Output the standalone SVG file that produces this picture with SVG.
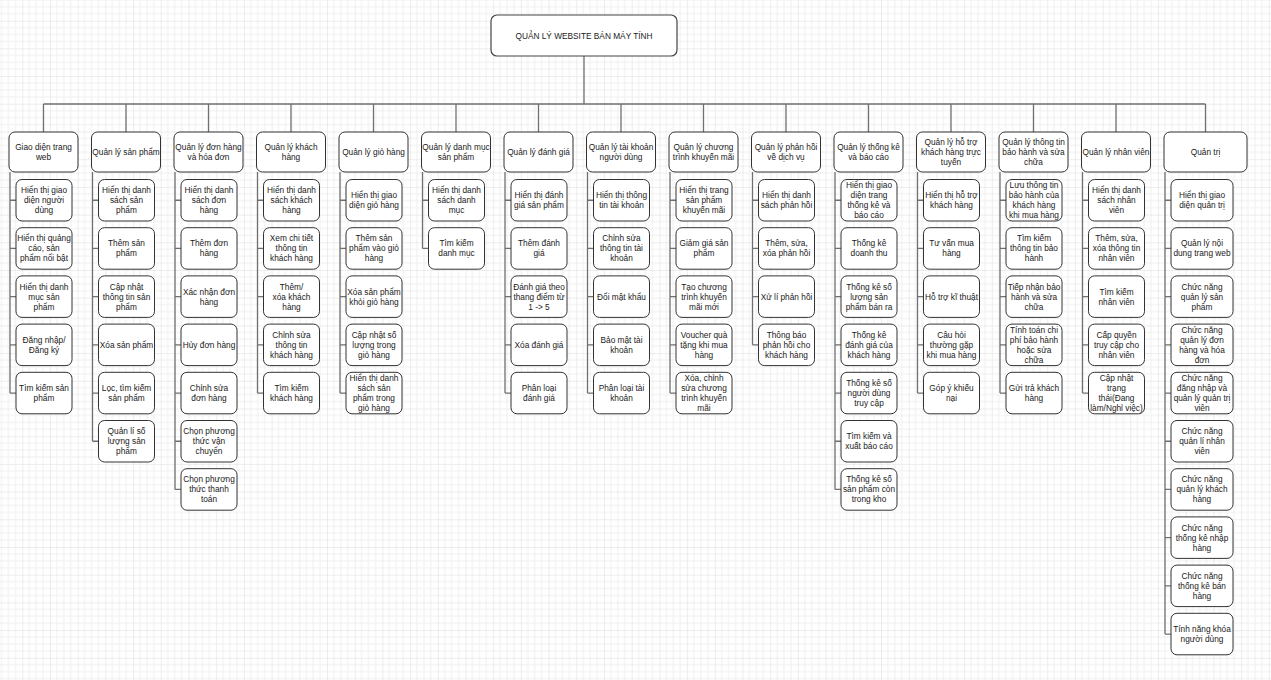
<svg xmlns="http://www.w3.org/2000/svg" width="1271" height="680" viewBox="0 0 1271 680">
<defs>
<pattern id="grid" patternUnits="userSpaceOnUse" x="-5.4" y="-7" width="27.7" height="27.7">
<path d="M6.925 0V27.7M13.85 0V27.7M20.775 0V27.7M0 6.925H27.7M0 13.85H27.7M0 20.775H27.7" stroke="#f0f0f0" stroke-width="1" fill="none"/>
<path d="M0 0V27.7M0 0H27.7" stroke="#dcdcdc" stroke-width="1" fill="none"/>
</pattern>
</defs>
<style>
.bx{fill:#fff;stroke:#333;stroke-width:1}
.tb{fill:#fff;stroke:#444;stroke-width:1.2}
.t{font-family:"Liberation Sans",Arial,sans-serif;font-size:8.3px;fill:#1a1a1a;text-anchor:middle;dominant-baseline:central}
.ln{fill:none;stroke:#707070;stroke-width:1.3}
</style>
<rect width="1271" height="680" fill="#fff"/>
<rect width="1271" height="680" fill="url(#grid)"/>

<g id="connectors" class="ln">
<path d="M584 56V104M43.5 104H1205.5"/>
<path d="M43.5 104V132M126 104V132M208.5 104V132M291 104V132M373.5 104V132M456 104V132M538.5 104V132M621 104V132M703.5 104V132M786 104V132M868.5 104V132M951 104V132M1033.5 104V132M1116 104V132M1205.5 104V132"/>
<path d="M10 172V393.05M10 200.25H16M10 248.45H16M10 296.65H16M10 344.85H16M10 393.05H16"/>
<path d="M92.5 172V441.25M92.5 200.25H98.5M92.5 248.45H98.5M92.5 296.65H98.5M92.5 344.85H98.5M92.5 393.05H98.5M92.5 441.25H98.5"/>
<path d="M175 172V489.45M175 200.25H181M175 248.45H181M175 296.65H181M175 344.85H181M175 393.05H181M175 441.25H181M175 489.45H181"/>
<path d="M257.5 172V393.05M257.5 200.25H263.5M257.5 248.45H263.5M257.5 296.65H263.5M257.5 344.85H263.5M257.5 393.05H263.5"/>
<path d="M340 172V393.05M340 200.25H346M340 248.45H346M340 296.65H346M340 344.85H346M340 393.05H346"/>
<path d="M422.5 172V248.45M422.5 200.25H428.5M422.5 248.45H428.5"/>
<path d="M505 172V393.05M505 200.25H511M505 248.45H511M505 296.65H511M505 344.85H511M505 393.05H511"/>
<path d="M587.5 172V393.05M587.5 200.25H593.5M587.5 248.45H593.5M587.5 296.65H593.5M587.5 344.85H593.5M587.5 393.05H593.5"/>
<path d="M670 172V393.05M670 200.25H676M670 248.45H676M670 296.65H676M670 344.85H676M670 393.05H676"/>
<path d="M752.5 172V344.85M752.5 200.25H758.5M752.5 248.45H758.5M752.5 296.65H758.5M752.5 344.85H758.5"/>
<path d="M835 172V489.45M835 200.25H841M835 248.45H841M835 296.65H841M835 344.85H841M835 393.05H841M835 441.25H841M835 489.45H841"/>
<path d="M917.5 172V393.05M917.5 200.25H923.5M917.5 248.45H923.5M917.5 296.65H923.5M917.5 344.85H923.5M917.5 393.05H923.5"/>
<path d="M1000 172V393.05M1000 200.25H1006M1000 248.45H1006M1000 296.65H1006M1000 344.85H1006M1000 393.05H1006"/>
<path d="M1082.5 172V393.05M1082.5 200.25H1088.5M1082.5 248.45H1088.5M1082.5 296.65H1088.5M1082.5 344.85H1088.5M1082.5 393.05H1088.5"/>
<path d="M1165 172V634.05M1165 200.25H1171M1165 248.45H1171M1165 296.65H1171M1165 344.85H1171M1165 393.05H1171M1165 441.25H1171M1165 489.45H1171M1165 537.65H1171M1165 585.85H1171M1165 634.05H1171"/>
</g>

<g id="title"><rect class="tb" x="491" y="15" width="186" height="41" rx="6"/><text class="t" x="584" y="35.5">QUẢN LÝ WEBSITE BÁN MÁY TÍNH</text></g>

<!-- Column 1 -->
<g id="n1" transform="translate(9,132)"><rect class="bx" width="69" height="40" rx="6"/><text class="t"><tspan x="34.5" y="15">Giao diện trang</tspan><tspan x="34.5" y="25">web</tspan></text></g>
<g id="n1-1" transform="translate(16,179.5)"><rect class="bx" width="56" height="41.5" rx="6"/><text class="t"><tspan x="28" y="10.75">Hiển thị giao</tspan><tspan x="28" y="20.75">diện người</tspan><tspan x="28" y="30.75">dùng</tspan></text></g>
<g id="n1-2" transform="translate(16,227.7)"><rect class="bx" width="56" height="41.5" rx="6"/><text class="t"><tspan x="28" y="10.75">Hiển thị quảng</tspan><tspan x="28" y="20.75">cáo, sản</tspan><tspan x="28" y="30.75">phẩm nổi bật</tspan></text></g>
<g id="n1-3" transform="translate(16,275.9)"><rect class="bx" width="56" height="41.5" rx="6"/><text class="t"><tspan x="28" y="10.75">Hiển thị danh</tspan><tspan x="28" y="20.75">mục sản</tspan><tspan x="28" y="30.75">phẩm</tspan></text></g>
<g id="n1-4" transform="translate(16,324.1)"><rect class="bx" width="56" height="41.5" rx="6"/><text class="t"><tspan x="28" y="15.75">Đăng nhập/</tspan><tspan x="28" y="25.75">Đăng ký</tspan></text></g>
<g id="n1-5" transform="translate(16,372.3)"><rect class="bx" width="56" height="41.5" rx="6"/><text class="t"><tspan x="28" y="15.75">Tìm kiếm sản</tspan><tspan x="28" y="25.75">phẩm</tspan></text></g>

<!-- Column 2 -->
<g id="n2" transform="translate(91.5,132)"><rect class="bx" width="69" height="40" rx="6"/><text class="t" x="34.5" y="20">Quản lý sản phẩm</text></g>
<g id="n2-1" transform="translate(98.5,179.5)"><rect class="bx" width="56" height="41.5" rx="6"/><text class="t"><tspan x="28" y="10.75">Hiển thị danh</tspan><tspan x="28" y="20.75">sách sản</tspan><tspan x="28" y="30.75">phẩm</tspan></text></g>
<g id="n2-2" transform="translate(98.5,227.7)"><rect class="bx" width="56" height="41.5" rx="6"/><text class="t"><tspan x="28" y="15.75">Thêm sản</tspan><tspan x="28" y="25.75">phẩm</tspan></text></g>
<g id="n2-3" transform="translate(98.5,275.9)"><rect class="bx" width="56" height="41.5" rx="6"/><text class="t"><tspan x="28" y="10.75">Cập nhật</tspan><tspan x="28" y="20.75">thông tin sản</tspan><tspan x="28" y="30.75">phẩm</tspan></text></g>
<g id="n2-4" transform="translate(98.5,324.1)"><rect class="bx" width="56" height="41.5" rx="6"/><text class="t" x="28" y="20.75">Xóa sản phẩm</text></g>
<g id="n2-5" transform="translate(98.5,372.3)"><rect class="bx" width="56" height="41.5" rx="6"/><text class="t"><tspan x="28" y="15.75">Lọc, tìm kiếm</tspan><tspan x="28" y="25.75">sản phẩm</tspan></text></g>
<g id="n2-6" transform="translate(98.5,420.5)"><rect class="bx" width="56" height="41.5" rx="6"/><text class="t"><tspan x="28" y="10.75">Quản lí số</tspan><tspan x="28" y="20.75">lượng sản</tspan><tspan x="28" y="30.75">phẩm</tspan></text></g>

<!-- Column 3 -->
<g id="n3" transform="translate(174,132)"><rect class="bx" width="69" height="40" rx="6"/><text class="t"><tspan x="34.5" y="15">Quản lý đơn hàng</tspan><tspan x="34.5" y="25">và hóa đơn</tspan></text></g>
<g id="n3-1" transform="translate(181,179.5)"><rect class="bx" width="56" height="41.5" rx="6"/><text class="t"><tspan x="28" y="10.75">Hiển thị danh</tspan><tspan x="28" y="20.75">sách đơn</tspan><tspan x="28" y="30.75">hàng</tspan></text></g>
<g id="n3-2" transform="translate(181,227.7)"><rect class="bx" width="56" height="41.5" rx="6"/><text class="t"><tspan x="28" y="15.75">Thêm đơn</tspan><tspan x="28" y="25.75">hàng</tspan></text></g>
<g id="n3-3" transform="translate(181,275.9)"><rect class="bx" width="56" height="41.5" rx="6"/><text class="t"><tspan x="28" y="15.75">Xác nhận đơn</tspan><tspan x="28" y="25.75">hàng</tspan></text></g>
<g id="n3-4" transform="translate(181,324.1)"><rect class="bx" width="56" height="41.5" rx="6"/><text class="t" x="28" y="20.75">Hủy đơn hàng</text></g>
<g id="n3-5" transform="translate(181,372.3)"><rect class="bx" width="56" height="41.5" rx="6"/><text class="t"><tspan x="28" y="15.75">Chỉnh sửa</tspan><tspan x="28" y="25.75">đơn hàng</tspan></text></g>
<g id="n3-6" transform="translate(181,420.5)"><rect class="bx" width="56" height="41.5" rx="6"/><text class="t"><tspan x="28" y="10.75">Chọn phương</tspan><tspan x="28" y="20.75">thức vận</tspan><tspan x="28" y="30.75">chuyển</tspan></text></g>
<g id="n3-7" transform="translate(181,468.7)"><rect class="bx" width="56" height="41.5" rx="6"/><text class="t"><tspan x="28" y="10.75">Chọn phương</tspan><tspan x="28" y="20.75">thức thanh</tspan><tspan x="28" y="30.75">toán</tspan></text></g>

<!-- Column 4 -->
<g id="n4" transform="translate(256.5,132)"><rect class="bx" width="69" height="40" rx="6"/><text class="t"><tspan x="34.5" y="15">Quản lý khách</tspan><tspan x="34.5" y="25">hàng</tspan></text></g>
<g id="n4-1" transform="translate(263.5,179.5)"><rect class="bx" width="56" height="41.5" rx="6"/><text class="t"><tspan x="28" y="10.75">Hiển thị danh</tspan><tspan x="28" y="20.75">sách khách</tspan><tspan x="28" y="30.75">hàng</tspan></text></g>
<g id="n4-2" transform="translate(263.5,227.7)"><rect class="bx" width="56" height="41.5" rx="6"/><text class="t"><tspan x="28" y="10.75">Xem chi tiết</tspan><tspan x="28" y="20.75">thông tin</tspan><tspan x="28" y="30.75">khách hàng</tspan></text></g>
<g id="n4-3" transform="translate(263.5,275.9)"><rect class="bx" width="56" height="41.5" rx="6"/><text class="t"><tspan x="28" y="10.75">Thêm/</tspan><tspan x="28" y="20.75">xóa khách</tspan><tspan x="28" y="30.75">hàng</tspan></text></g>
<g id="n4-4" transform="translate(263.5,324.1)"><rect class="bx" width="56" height="41.5" rx="6"/><text class="t"><tspan x="28" y="10.75">Chỉnh sửa</tspan><tspan x="28" y="20.75">thông tin</tspan><tspan x="28" y="30.75">khách hàng</tspan></text></g>
<g id="n4-5" transform="translate(263.5,372.3)"><rect class="bx" width="56" height="41.5" rx="6"/><text class="t"><tspan x="28" y="15.75">Tìm kiếm</tspan><tspan x="28" y="25.75">khách hàng</tspan></text></g>

<!-- Column 5 -->
<g id="n5" transform="translate(339,132)"><rect class="bx" width="69" height="40" rx="6"/><text class="t" x="34.5" y="20">Quản lý giỏ hàng</text></g>
<g id="n5-1" transform="translate(346,179.5)"><rect class="bx" width="56" height="41.5" rx="6"/><text class="t"><tspan x="28" y="15.75">Hiển thị giao</tspan><tspan x="28" y="25.75">diện giỏ hàng</tspan></text></g>
<g id="n5-2" transform="translate(346,227.7)"><rect class="bx" width="56" height="41.5" rx="6"/><text class="t"><tspan x="28" y="10.75">Thêm sản</tspan><tspan x="28" y="20.75">phẩm vào giỏ</tspan><tspan x="28" y="30.75">hàng</tspan></text></g>
<g id="n5-3" transform="translate(346,275.9)"><rect class="bx" width="56" height="41.5" rx="6"/><text class="t"><tspan x="28" y="15.75">Xóa sản phẩm</tspan><tspan x="28" y="25.75">khỏi giỏ hàng</tspan></text></g>
<g id="n5-4" transform="translate(346,324.1)"><rect class="bx" width="56" height="41.5" rx="6"/><text class="t"><tspan x="28" y="10.75">Cập nhật số</tspan><tspan x="28" y="20.75">lượng trong</tspan><tspan x="28" y="30.75">giỏ hàng</tspan></text></g>
<g id="n5-5" transform="translate(346,372.3)"><rect class="bx" width="56" height="41.5" rx="6"/><text class="t"><tspan x="28" y="5.75">Hiển thị danh</tspan><tspan x="28" y="15.75">sách sản</tspan><tspan x="28" y="25.75">phẩm trong</tspan><tspan x="28" y="35.75">giỏ hàng</tspan></text></g>

<!-- Column 6 -->
<g id="n6" transform="translate(421.5,132)"><rect class="bx" width="69" height="40" rx="6"/><text class="t"><tspan x="34.5" y="15">Quản lý danh mục</tspan><tspan x="34.5" y="25">sản phẩm</tspan></text></g>
<g id="n6-1" transform="translate(428.5,179.5)"><rect class="bx" width="56" height="41.5" rx="6"/><text class="t"><tspan x="28" y="10.75">Hiển thị danh</tspan><tspan x="28" y="20.75">sách danh</tspan><tspan x="28" y="30.75">mục</tspan></text></g>
<g id="n6-2" transform="translate(428.5,227.7)"><rect class="bx" width="56" height="41.5" rx="6"/><text class="t"><tspan x="28" y="15.75">Tìm kiếm</tspan><tspan x="28" y="25.75">danh mục</tspan></text></g>

<!-- Column 7 -->
<g id="n7" transform="translate(504,132)"><rect class="bx" width="69" height="40" rx="6"/><text class="t" x="34.5" y="20">Quản lý đánh giá</text></g>
<g id="n7-1" transform="translate(511,179.5)"><rect class="bx" width="56" height="41.5" rx="6"/><text class="t"><tspan x="28" y="15.75">Hiển thị đánh</tspan><tspan x="28" y="25.75">giá sản phẩm</tspan></text></g>
<g id="n7-2" transform="translate(511,227.7)"><rect class="bx" width="56" height="41.5" rx="6"/><text class="t"><tspan x="28" y="15.75">Thêm đánh</tspan><tspan x="28" y="25.75">giá</tspan></text></g>
<g id="n7-3" transform="translate(511,275.9)"><rect class="bx" width="56" height="41.5" rx="6"/><text class="t"><tspan x="28" y="10.75">Đánh giá theo</tspan><tspan x="28" y="20.75">thang điểm từ</tspan><tspan x="28" y="30.75">1 -&gt; 5</tspan></text></g>
<g id="n7-4" transform="translate(511,324.1)"><rect class="bx" width="56" height="41.5" rx="6"/><text class="t" x="28" y="20.75">Xóa đánh giá</text></g>
<g id="n7-5" transform="translate(511,372.3)"><rect class="bx" width="56" height="41.5" rx="6"/><text class="t"><tspan x="28" y="15.75">Phân loại</tspan><tspan x="28" y="25.75">đánh giá</tspan></text></g>

<!-- Column 8 -->
<g id="n8" transform="translate(586.5,132)"><rect class="bx" width="69" height="40" rx="6"/><text class="t"><tspan x="34.5" y="15">Quản lý tài khoản</tspan><tspan x="34.5" y="25">người dùng</tspan></text></g>
<g id="n8-1" transform="translate(593.5,179.5)"><rect class="bx" width="56" height="41.5" rx="6"/><text class="t"><tspan x="28" y="15.75">Hiển thị thông</tspan><tspan x="28" y="25.75">tin tài khoản</tspan></text></g>
<g id="n8-2" transform="translate(593.5,227.7)"><rect class="bx" width="56" height="41.5" rx="6"/><text class="t"><tspan x="28" y="10.75">Chỉnh sửa</tspan><tspan x="28" y="20.75">thông tin tài</tspan><tspan x="28" y="30.75">khoản</tspan></text></g>
<g id="n8-3" transform="translate(593.5,275.9)"><rect class="bx" width="56" height="41.5" rx="6"/><text class="t" x="28" y="20.75">Đổi mật khẩu</text></g>
<g id="n8-4" transform="translate(593.5,324.1)"><rect class="bx" width="56" height="41.5" rx="6"/><text class="t"><tspan x="28" y="15.75">Bảo mật tài</tspan><tspan x="28" y="25.75">khoản</tspan></text></g>
<g id="n8-5" transform="translate(593.5,372.3)"><rect class="bx" width="56" height="41.5" rx="6"/><text class="t"><tspan x="28" y="15.75">Phân loại tài</tspan><tspan x="28" y="25.75">khoản</tspan></text></g>

<!-- Column 9 -->
<g id="n9" transform="translate(669,132)"><rect class="bx" width="69" height="40" rx="6"/><text class="t"><tspan x="34.5" y="15">Quản lý chương</tspan><tspan x="34.5" y="25">trình khuyến mãi</tspan></text></g>
<g id="n9-1" transform="translate(676,179.5)"><rect class="bx" width="56" height="41.5" rx="6"/><text class="t"><tspan x="28" y="10.75">Hiển thị trang</tspan><tspan x="28" y="20.75">sản phẩm</tspan><tspan x="28" y="30.75">khuyến mãi</tspan></text></g>
<g id="n9-2" transform="translate(676,227.7)"><rect class="bx" width="56" height="41.5" rx="6"/><text class="t"><tspan x="28" y="15.75">Giảm giá sản</tspan><tspan x="28" y="25.75">phẩm</tspan></text></g>
<g id="n9-3" transform="translate(676,275.9)"><rect class="bx" width="56" height="41.5" rx="6"/><text class="t"><tspan x="28" y="10.75">Tạo chương</tspan><tspan x="28" y="20.75">trình khuyến</tspan><tspan x="28" y="30.75">mãi mới</tspan></text></g>
<g id="n9-4" transform="translate(676,324.1)"><rect class="bx" width="56" height="41.5" rx="6"/><text class="t"><tspan x="28" y="10.75">Voucher quà</tspan><tspan x="28" y="20.75">tặng khi mua</tspan><tspan x="28" y="30.75">hàng</tspan></text></g>
<g id="n9-5" transform="translate(676,372.3)"><rect class="bx" width="56" height="41.5" rx="6"/><text class="t"><tspan x="28" y="5.75">Xóa, chỉnh</tspan><tspan x="28" y="15.75">sửa chương</tspan><tspan x="28" y="25.75">trình khuyến</tspan><tspan x="28" y="35.75">mãi</tspan></text></g>

<!-- Column 10 -->
<g id="n10" transform="translate(751.5,132)"><rect class="bx" width="69" height="40" rx="6"/><text class="t"><tspan x="34.5" y="15">Quản lý phản hồi</tspan><tspan x="34.5" y="25">về dịch vụ</tspan></text></g>
<g id="n10-1" transform="translate(758.5,179.5)"><rect class="bx" width="56" height="41.5" rx="6"/><text class="t"><tspan x="28" y="15.75">Hiển thị danh</tspan><tspan x="28" y="25.75">sách phản hồi</tspan></text></g>
<g id="n10-2" transform="translate(758.5,227.7)"><rect class="bx" width="56" height="41.5" rx="6"/><text class="t"><tspan x="28" y="15.75">Thêm, sửa,</tspan><tspan x="28" y="25.75">xóa phản hồi</tspan></text></g>
<g id="n10-3" transform="translate(758.5,275.9)"><rect class="bx" width="56" height="41.5" rx="6"/><text class="t" x="28" y="20.75">Xử lí phản hồi</text></g>
<g id="n10-4" transform="translate(758.5,324.1)"><rect class="bx" width="56" height="41.5" rx="6"/><text class="t"><tspan x="28" y="10.75">Thông báo</tspan><tspan x="28" y="20.75">phản hồi cho</tspan><tspan x="28" y="30.75">khách hàng</tspan></text></g>

<!-- Column 11 -->
<g id="n11" transform="translate(834,132)"><rect class="bx" width="69" height="40" rx="6"/><text class="t"><tspan x="34.5" y="15">Quản lý thống kê</tspan><tspan x="34.5" y="25">và báo cáo</tspan></text></g>
<g id="n11-1" transform="translate(841,179.5)"><rect class="bx" width="56" height="41.5" rx="6"/><text class="t"><tspan x="28" y="5.75">Hiển thị giao</tspan><tspan x="28" y="15.75">diện trang</tspan><tspan x="28" y="25.75">thống kê và</tspan><tspan x="28" y="35.75">báo cáo</tspan></text></g>
<g id="n11-2" transform="translate(841,227.7)"><rect class="bx" width="56" height="41.5" rx="6"/><text class="t"><tspan x="28" y="15.75">Thống kê</tspan><tspan x="28" y="25.75">doanh thu</tspan></text></g>
<g id="n11-3" transform="translate(841,275.9)"><rect class="bx" width="56" height="41.5" rx="6"/><text class="t"><tspan x="28" y="10.75">Thống kê số</tspan><tspan x="28" y="20.75">lượng sản</tspan><tspan x="28" y="30.75">phẩm bán ra</tspan></text></g>
<g id="n11-4" transform="translate(841,324.1)"><rect class="bx" width="56" height="41.5" rx="6"/><text class="t"><tspan x="28" y="10.75">Thống kê</tspan><tspan x="28" y="20.75">đánh giá của</tspan><tspan x="28" y="30.75">khách hàng</tspan></text></g>
<g id="n11-5" transform="translate(841,372.3)"><rect class="bx" width="56" height="41.5" rx="6"/><text class="t"><tspan x="28" y="10.75">Thống kê số</tspan><tspan x="28" y="20.75">người dùng</tspan><tspan x="28" y="30.75">truy cập</tspan></text></g>
<g id="n11-6" transform="translate(841,420.5)"><rect class="bx" width="56" height="41.5" rx="6"/><text class="t"><tspan x="28" y="15.75">Tìm kiếm và</tspan><tspan x="28" y="25.75">xuất báo cáo</tspan></text></g>
<g id="n11-7" transform="translate(841,468.7)"><rect class="bx" width="56" height="41.5" rx="6"/><text class="t"><tspan x="28" y="10.75">Thống kê số</tspan><tspan x="28" y="20.75">sản phẩm còn</tspan><tspan x="28" y="30.75">trong kho</tspan></text></g>

<!-- Column 12 -->
<g id="n12" transform="translate(916.5,132)"><rect class="bx" width="69" height="40" rx="6"/><text class="t"><tspan x="34.5" y="10">Quản lý hỗ trợ</tspan><tspan x="34.5" y="20">khách hàng trực</tspan><tspan x="34.5" y="30">tuyến</tspan></text></g>
<g id="n12-1" transform="translate(923.5,179.5)"><rect class="bx" width="56" height="41.5" rx="6"/><text class="t"><tspan x="28" y="15.75">Hiển thị hỗ trợ</tspan><tspan x="28" y="25.75">khách hàng</tspan></text></g>
<g id="n12-2" transform="translate(923.5,227.7)"><rect class="bx" width="56" height="41.5" rx="6"/><text class="t"><tspan x="28" y="15.75">Tư vấn mua</tspan><tspan x="28" y="25.75">hàng</tspan></text></g>
<g id="n12-3" transform="translate(923.5,275.9)"><rect class="bx" width="56" height="41.5" rx="6"/><text class="t" x="28" y="20.75">Hỗ trợ kĩ thuật</text></g>
<g id="n12-4" transform="translate(923.5,324.1)"><rect class="bx" width="56" height="41.5" rx="6"/><text class="t"><tspan x="28" y="10.75">Câu hỏi</tspan><tspan x="28" y="20.75">thường gặp</tspan><tspan x="28" y="30.75">khi mua hàng</tspan></text></g>
<g id="n12-5" transform="translate(923.5,372.3)"><rect class="bx" width="56" height="41.5" rx="6"/><text class="t"><tspan x="28" y="15.75">Góp ý khiếu</tspan><tspan x="28" y="25.75">nại</tspan></text></g>

<!-- Column 13 -->
<g id="n13" transform="translate(999,132)"><rect class="bx" width="69" height="40" rx="6"/><text class="t"><tspan x="34.5" y="10">Quản lý thông tin</tspan><tspan x="34.5" y="20">bảo hành và sửa</tspan><tspan x="34.5" y="30">chữa</tspan></text></g>
<g id="n13-1" transform="translate(1006,179.5)"><rect class="bx" width="56" height="41.5" rx="6"/><text class="t"><tspan x="28" y="5.75">Lưu thông tin</tspan><tspan x="28" y="15.75">bảo hành của</tspan><tspan x="28" y="25.75">khách hàng</tspan><tspan x="28" y="35.75">khi mua hàng</tspan></text></g>
<g id="n13-2" transform="translate(1006,227.7)"><rect class="bx" width="56" height="41.5" rx="6"/><text class="t"><tspan x="28" y="10.75">Tìm kiếm</tspan><tspan x="28" y="20.75">thông tin bảo</tspan><tspan x="28" y="30.75">hành</tspan></text></g>
<g id="n13-3" transform="translate(1006,275.9)"><rect class="bx" width="56" height="41.5" rx="6"/><text class="t"><tspan x="28" y="10.75">Tiếp nhận bảo</tspan><tspan x="28" y="20.75">hành và sửa</tspan><tspan x="28" y="30.75">chữa</tspan></text></g>
<g id="n13-4" transform="translate(1006,324.1)"><rect class="bx" width="56" height="41.5" rx="6"/><text class="t"><tspan x="28" y="5.75">Tính toán chi</tspan><tspan x="28" y="15.75">phí bảo hành</tspan><tspan x="28" y="25.75">hoặc sửa</tspan><tspan x="28" y="35.75">chữa</tspan></text></g>
<g id="n13-5" transform="translate(1006,372.3)"><rect class="bx" width="56" height="41.5" rx="6"/><text class="t"><tspan x="28" y="15.75">Gửi trả khách</tspan><tspan x="28" y="25.75">hàng</tspan></text></g>

<!-- Column 14 -->
<g id="n14" transform="translate(1081.5,132)"><rect class="bx" width="69" height="40" rx="6"/><text class="t" x="34.5" y="20">Quản lý nhân viên</text></g>
<g id="n14-1" transform="translate(1088.5,179.5)"><rect class="bx" width="56" height="41.5" rx="6"/><text class="t"><tspan x="28" y="10.75">Hiển thị danh</tspan><tspan x="28" y="20.75">sách nhân</tspan><tspan x="28" y="30.75">viên</tspan></text></g>
<g id="n14-2" transform="translate(1088.5,227.7)"><rect class="bx" width="56" height="41.5" rx="6"/><text class="t"><tspan x="28" y="10.75">Thêm, sửa,</tspan><tspan x="28" y="20.75">xóa thông tin</tspan><tspan x="28" y="30.75">nhân viên</tspan></text></g>
<g id="n14-3" transform="translate(1088.5,275.9)"><rect class="bx" width="56" height="41.5" rx="6"/><text class="t"><tspan x="28" y="15.75">Tìm kiếm</tspan><tspan x="28" y="25.75">nhân viên</tspan></text></g>
<g id="n14-4" transform="translate(1088.5,324.1)"><rect class="bx" width="56" height="41.5" rx="6"/><text class="t"><tspan x="28" y="10.75">Cấp quyền</tspan><tspan x="28" y="20.75">truy cập cho</tspan><tspan x="28" y="30.75">nhân viên</tspan></text></g>
<g id="n14-5" transform="translate(1088.5,372.3)"><rect class="bx" width="56" height="41.5" rx="6"/><text class="t"><tspan x="28" y="5.75">Cập nhật</tspan><tspan x="28" y="15.75">trạng</tspan><tspan x="28" y="25.75">thái(Đang</tspan><tspan x="28" y="35.75">làm/Nghỉ việc)</tspan></text></g>

<!-- Column 15 -->
<g id="n15" transform="translate(1164,132)"><rect class="bx" width="83" height="40" rx="6"/><text class="t" x="41.5" y="20">Quản trị</text></g>
<g id="n15-1" transform="translate(1171,179.5)"><rect class="bx" width="62" height="41.5" rx="6"/><text class="t"><tspan x="31" y="15.75">Hiển thị giao</tspan><tspan x="31" y="25.75">diện quản trị</tspan></text></g>
<g id="n15-2" transform="translate(1171,227.7)"><rect class="bx" width="62" height="41.5" rx="6"/><text class="t"><tspan x="31" y="15.75">Quản lý nội</tspan><tspan x="31" y="25.75">dung trang web</tspan></text></g>
<g id="n15-3" transform="translate(1171,275.9)"><rect class="bx" width="62" height="41.5" rx="6"/><text class="t"><tspan x="31" y="10.75">Chức năng</tspan><tspan x="31" y="20.75">quản lý sản</tspan><tspan x="31" y="30.75">phẩm</tspan></text></g>
<g id="n15-4" transform="translate(1171,324.1)"><rect class="bx" width="62" height="41.5" rx="6"/><text class="t"><tspan x="31" y="5.75">Chức năng</tspan><tspan x="31" y="15.75">quản lý đơn</tspan><tspan x="31" y="25.75">hàng và hóa</tspan><tspan x="31" y="35.75">đơn</tspan></text></g>
<g id="n15-5" transform="translate(1171,372.3)"><rect class="bx" width="62" height="41.5" rx="6"/><text class="t"><tspan x="31" y="5.75">Chức năng</tspan><tspan x="31" y="15.75">đăng nhập và</tspan><tspan x="31" y="25.75">quản lý quản trị</tspan><tspan x="31" y="35.75">viên</tspan></text></g>
<g id="n15-6" transform="translate(1171,420.5)"><rect class="bx" width="62" height="41.5" rx="6"/><text class="t"><tspan x="31" y="10.75">Chức năng</tspan><tspan x="31" y="20.75">quản lí nhân</tspan><tspan x="31" y="30.75">viên</tspan></text></g>
<g id="n15-7" transform="translate(1171,468.7)"><rect class="bx" width="62" height="41.5" rx="6"/><text class="t"><tspan x="31" y="10.75">Chức năng</tspan><tspan x="31" y="20.75">quản lý khách</tspan><tspan x="31" y="30.75">hàng</tspan></text></g>
<g id="n15-8" transform="translate(1171,516.9)"><rect class="bx" width="62" height="41.5" rx="6"/><text class="t"><tspan x="31" y="10.75">Chức năng</tspan><tspan x="31" y="20.75">thống kê nhập</tspan><tspan x="31" y="30.75">hàng</tspan></text></g>
<g id="n15-9" transform="translate(1171,565.1)"><rect class="bx" width="62" height="41.5" rx="6"/><text class="t"><tspan x="31" y="10.75">Chức năng</tspan><tspan x="31" y="20.75">thống kê bán</tspan><tspan x="31" y="30.75">hàng</tspan></text></g>
<g id="n15-10" transform="translate(1171,613.3)"><rect class="bx" width="62" height="41.5" rx="6"/><text class="t"><tspan x="31" y="15.75">Tính năng khóa</tspan><tspan x="31" y="25.75">người dùng</tspan></text></g>
</svg>
